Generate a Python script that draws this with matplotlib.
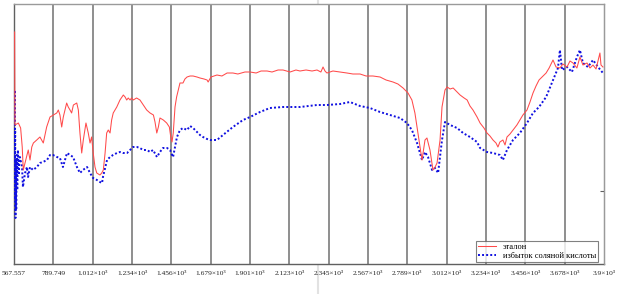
import numpy as np
import matplotlib.pyplot as plt
from matplotlib.lines import Line2D

plt.rcParams['font.family'] = ['Liberation Serif', 'DejaVu Serif']

# tick positions (wavenumber, cm^-1)
tick_vals = [567.557, 789.749, 1012, 1234, 1456, 1679, 1901, 2123, 2345,
             2567, 2789, 3012, 3234, 3456, 3678, 3900]
tick_labels = ["567.557", "789.749", "1.012×10³", "1.234×10³", "1.456×10³",
               "1.679×10³", "1.901×10³", "2.123×10³", "2.345×10³", "2.567×10³",
               "2.789×10³", "3.012×10³", "3.234×10³", "3.456×10³", "3.678×10³",
               "3.9×10³"]

# эталон (reference sample), arbitrary transmittance units
ref_x = [571, 573, 592, 605, 614, 620, 630, 639, 648, 658, 668, 677, 696, 714, 733,
         752, 771, 790, 809, 818, 827, 837, 846, 865, 874, 884, 893, 903, 922, 931,
         940, 950, 959, 974, 987, 997, 1006, 1015, 1025, 1035, 1053, 1063, 1072, 1082,
         1091, 1100, 1110, 1119, 1128, 1148, 1166, 1185, 1195, 1204, 1213, 1223, 1232,
         1241, 1260, 1279, 1298, 1317, 1336, 1355, 1364, 1374, 1383, 1392, 1411, 1430,
         1445, 1453, 1460, 1467, 1477, 1486, 1505, 1522, 1533, 1545, 1562, 1579, 1601,
         1618, 1641, 1658, 1664, 1680, 1714, 1742, 1771, 1804, 1832, 1872, 1901, 1935,
         1963, 1997, 2025, 2059, 2087, 2127, 2160, 2183, 2217, 2251, 2279, 2301, 2313,
         2324, 2335, 2369, 2409, 2448, 2482, 2522, 2556, 2595, 2635, 2669, 2708, 2736,
         2765, 2793, 2815, 2832, 2849, 2872, 2889, 2900, 2917, 2934, 2946, 2957, 2974,
         2985, 3002, 3014, 3031, 3048, 3070, 3087, 3110, 3127, 3143, 3160, 3183, 3200,
         3222, 3239, 3256, 3273, 3290, 3301, 3312, 3329, 3341, 3352, 3369, 3386, 3408,
         3425, 3442, 3465, 3482, 3499, 3516, 3533, 3556, 3573, 3590, 3612, 3629, 3651,
         3668, 3691, 3708, 3725, 3747, 3764, 3781, 3804, 3821, 3838, 3855, 3877, 3883,
         3894]
ref_y = [232, 139, 141, 136, 117, 94, 101, 107, 114, 104, 117, 121, 124, 127, 121,
         137, 147, 149, 151, 154, 149, 137, 147, 161, 157, 154, 151, 159, 161, 154,
         131, 111, 124, 141, 131, 121, 127, 111, 97, 91, 89, 91, 94, 111,
         131, 134, 131, 144, 151, 157, 164, 169, 167, 164, 166, 164, 166,
         164, 166, 164, 159, 154, 151, 149, 142, 131, 137, 146, 144, 141,
         137, 127, 122, 131, 157, 167, 181, 181, 185, 187, 188, 188, 187,
         186, 185, 184, 182, 187, 189, 188, 191, 191, 190, 192, 192, 191,
         193, 193, 192, 194, 194, 192, 194, 193, 194, 193, 194, 192, 197,
         193, 191, 193, 192, 191, 190, 190, 188, 188, 187, 184, 182, 180,
         176, 171, 164, 151, 131, 104, 124, 126, 114, 94, 97, 101, 124,
         157, 174, 177, 175, 176, 172, 169, 166, 164, 158, 154, 147, 141,
         136, 131, 128, 124, 121, 117, 122, 124, 119, 127, 130, 134, 139,
         144, 149, 154, 162, 171, 178, 184, 188, 191, 196, 204, 197, 196,
         200, 197, 203, 201, 196, 207, 199, 201, 196, 199, 195, 211, 199,
         197]

# избыток соляной кислоты (excess hydrochloric acid)
hcl_x = [570, 571, 572, 574, 576, 578, 580, 583, 586, 590, 594, 598, 601, 613, 618,
         630, 641, 647, 658, 675, 697, 714, 731, 754, 771, 788, 810, 827, 844, 867,
         884, 901, 923, 940, 957, 980, 997, 1014, 1036, 1053, 1065, 1070, 1093, 1110,
         1127, 1149, 1166, 1183, 1206, 1223, 1240, 1262, 1279, 1296, 1319, 1336, 1353,
         1375, 1392, 1409, 1432, 1449, 1460, 1466, 1477, 1488, 1505, 1522, 1545, 1562,
         1579, 1601, 1618, 1635, 1658, 1675, 1714, 1748, 1804, 1861, 1901, 1957, 2013,
         2087, 2183, 2279, 2335, 2409, 2465, 2522, 2578, 2635, 2691, 2748, 2787, 2815,
         2844, 2872, 2889, 2906, 2929, 2946, 2963, 2985, 3002, 3031, 3070, 3104, 3143,
         3183, 3200, 3239, 3273, 3312, 3329, 3352, 3386, 3425, 3465, 3499, 3533, 3573,
         3612, 3640, 3651, 3663, 3691, 3719, 3747, 3764, 3781, 3809, 3838, 3866, 3894]
hcl_y = [114, 174, 64, 134, 46, 104, 54, 109, 74, 114, 89, 104, 107, 97, 77,
         91, 97, 87, 97, 94, 97, 101, 102, 104, 109, 109, 107, 106, 97, 111,
         109, 107, 97, 91, 94, 97, 91, 86, 84, 82, 81, 87, 104, 107,
         109, 111, 112, 111, 111, 114, 117, 117, 116, 114, 114, 112, 114,
         107, 112, 116, 116, 114, 109, 107, 117, 127, 134, 136, 134, 138,
         136, 132, 129, 127, 125, 124, 124, 129, 137, 144, 147, 152, 156,
         157, 157, 159, 159, 160, 162, 158, 156, 152, 149, 146, 141, 134,
         121, 104, 112, 107, 94, 96, 91, 124, 142, 139, 136, 131, 127,
         122, 116, 112, 111, 109, 104, 114, 124, 131, 141, 151, 157, 167,
         184, 196, 214, 194, 197, 192, 207, 214, 201, 197, 204, 197, 191]

fig = plt.figure(figsize=(6.24, 2.94), dpi=100)
ax = fig.add_axes([14/624, 30/294, 590/624, 260/294])

for t in tick_vals[1:-1]:
    ax.axvline(t, color="#707070", lw=1.1, zorder=1)

ax.plot(ref_x, ref_y, color="#ff4a4a", lw=0.75, label="эталон", zorder=4)
ax.plot(hcl_x, hcl_y, color="#1010e0", lw=1.4, ls=(0, (1, 1.1)),
        label="избыток соляной кислоты", zorder=3)

ax.set_xlim(567.557, 3900)
ax.set_ylim(0, 260)
ax.set_xticks(tick_vals)
ax.set_xticklabels(tick_labels, fontsize=5.3, color="#222222")
ax.tick_params(axis="x", length=0, pad=5)
ax.set_yticks([])

ax.spines["left"].set_color("#606060")
ax.spines["bottom"].set_color("#606060")
ax.spines["top"].set_color("#9a9a9a")
ax.spines["right"].set_color("#9a9a9a")
for s in ax.spines.values():
    s.set_linewidth(1.0)
    s.set_zorder(2)

# single inward tick on the right axis
ax2 = ax.twinx()
ax2.set_ylim(0, 260)
ax2.set_yticks([73])
ax2.set_yticklabels([""])
ax2.tick_params(axis="y", direction="in", length=3, color="#606060")
for side in ("left", "top", "bottom"):
    ax2.spines[side].set_visible(False)
ax2.spines["right"].set_color("#9a9a9a")

leg = ax.legend(loc="lower right", bbox_to_anchor=(0.993, 0.0), fontsize=6,
                frameon=True, fancybox=False, edgecolor="#606060",
                handlelength=2.2, borderpad=0.25, labelspacing=0.15,
                handletextpad=0.8, borderaxespad=0.2)
leg.get_frame().set_linewidth(0.8)
leg.set_zorder(5)

# light vertical cursor line across the figure
fig.add_artist(Line2D([318/624, 318/624], [0, 1], color="#e2e2e2", lw=1.5,
                      transform=fig.transFigure, zorder=0))

fig.savefig("out.png", dpi=100)
